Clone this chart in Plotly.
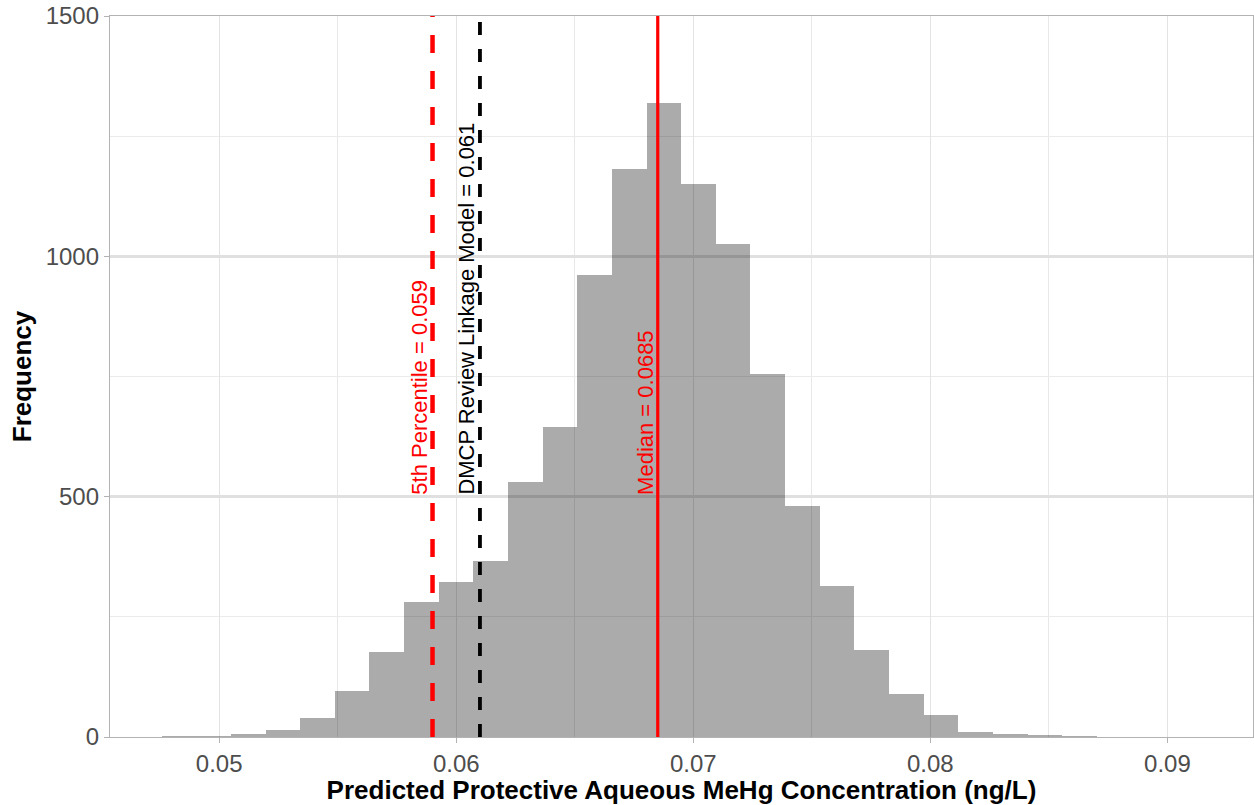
import plotly.graph_objects as go

# ---- data ----
bin_centers = [0.048304, 0.049765, 0.051226, 0.052687, 0.054148, 0.055609,
               0.057070, 0.058531, 0.059992, 0.061453, 0.062914, 0.064375,
               0.065836, 0.067297, 0.068758, 0.070219, 0.071680, 0.073141,
               0.074602, 0.076063, 0.077524, 0.078985, 0.080446, 0.081907,
               0.083368, 0.084829, 0.086290, 0.087751, 0.089212, 0.090673]
bin_width = 0.001461
counts = [2, 2, 6, 15, 40, 95, 177, 280, 322, 366, 530, 645,
          962, 1182, 1318, 1151, 1025, 755, 480, 315, 182, 89, 45, 11,
          6, 5, 2, 0, 0, 1]

pct5_value = 0.059
dmcp_value = 0.061
median_value = 0.0685
label_y = 500

x_tickvals = [0.05, 0.06, 0.07, 0.08, 0.09]
x_ticktext = ["0.05", "0.06", "0.07", "0.08", "0.09"]
y_tickvals = [0, 500, 1000, 1500]
y_ticktext = ["0", "500", "1000", "1500"]

FONT = "Liberation Sans, Arial, sans-serif"

fig = go.Figure()
fig.add_trace(go.Bar(
    x=bin_centers, y=counts, width=[bin_width] * len(bin_centers),
    marker=dict(color="rgba(0,0,0,0.33)", line=dict(width=0)),
    hoverinfo="x+y", showlegend=False,
))

# vertical reference lines
fig.add_shape(type="line", xref="x", yref="y", x0=pct5_value, x1=pct5_value,
              y0=0, y1=1500, layer="above",
              line=dict(color="#ff0000", width=4.5, dash="18px,18px"))
fig.add_shape(type="line", xref="x", yref="y", x0=dmcp_value, x1=dmcp_value,
              y0=0, y1=1500, layer="above",
              line=dict(color="#000000", width=3.8, dash="13px,14px"))
fig.add_shape(type="line", xref="x", yref="y", x0=median_value, x1=median_value,
              y0=0, y1=1500, layer="above",
              line=dict(color="#ff0000", width=3.2))

ann_font = 22
fig.add_annotation(x=pct5_value, y=label_y, xref="x", yref="y",
                   text="5th Percentile = 0.059", textangle=-90,
                   showarrow=False, xanchor="center", yanchor="bottom",
                   xshift=-13, font=dict(family=FONT, size=ann_font, color="#ff0000"))
fig.add_annotation(x=dmcp_value, y=label_y, xref="x", yref="y",
                   text="DMCP Review Linkage Model = 0.061", textangle=-90,
                   showarrow=False, xanchor="center", yanchor="bottom",
                   xshift=-13, font=dict(family=FONT, size=ann_font, color="#000000"))
fig.add_annotation(x=median_value, y=label_y, xref="x", yref="y",
                   text="Median = 0.0685", textangle=-90,
                   showarrow=False, xanchor="center", yanchor="bottom",
                   xshift=-13, font=dict(family=FONT, size=ann_font, color="#ff0000"))

fig.update_layout(
    width=1254, height=805,
    margin=dict(l=110, r=1, t=16, b=68, autoexpand=False),
    paper_bgcolor="white", plot_bgcolor="white",
    bargap=0,
    font=dict(family=FONT),
    xaxis=dict(
        range=[0.045394, 0.093611],
        tickmode="array", tickvals=x_tickvals, ticktext=x_ticktext,
        tickfont=dict(family=FONT, size=24, color="#4d4d4d"),
        ticks="outside", ticklen=5, tickcolor="#b3b3b3", tickwidth=1,
        showgrid=True, gridcolor="#e3e3e3", gridwidth=1,
        minor=dict(tickmode="array", tickvals=[0.055, 0.065, 0.075, 0.085],
                   showgrid=True, gridcolor="#e8e8e8", gridwidth=1, ticks=""),
        showline=True, linecolor="#b3b3b3", linewidth=1.3, mirror=True,
        zeroline=False,
        title=dict(text="<b>Predicted Protective Aqueous MeHg Concentration (ng/L)</b>",
                   font=dict(family=FONT, size=26, color="#000000"), standoff=5),
    ),
    yaxis=dict(
        range=[0, 1500],
        tickmode="array", tickvals=y_tickvals, ticktext=y_ticktext,
        tickfont=dict(family=FONT, size=24, color="#4d4d4d"),
        ticks="outside", ticklen=5, tickcolor="#b3b3b3", tickwidth=1,
        showgrid=True, gridcolor="#e0e0e0", gridwidth=3,
        minor=dict(tickmode="array", tickvals=[250, 750, 1250],
                   showgrid=True, gridcolor="#ebebeb", gridwidth=1, ticks=""),
        showline=True, linecolor="#b3b3b3", linewidth=1.3, mirror=True,
        zeroline=False,
        title=dict(text="<b>Frequency</b>",
                   font=dict(family=FONT, size=26, color="#000000"), standoff=6),
    ),
)

fig.write_html(
    "out.html",
    config={"displayModeBar": False},
    post_script="document.body.style.margin='0';document.body.style.overflow='hidden';",
)
